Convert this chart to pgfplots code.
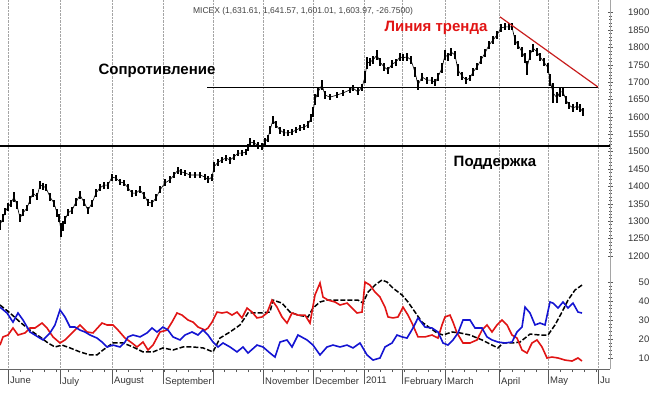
\documentclass[border=0pt]{standalone}
\usepackage{pgfplots}
\pgfplotsset{compat=1.18}
\usepackage{pgfplotstable}
\usepackage{fontspec}
\setmainfont{Liberation Sans}
\definecolor{dmiblue}{RGB}{20,20,210}
\definecolor{dmired}{RGB}{225,20,20}
\definecolor{trendred}{RGB}{200,30,30}
\definecolor{gridgray}{RGB}{165,165,165}

\pgfplotstableread{
x c e
0 1289 14
3 1309 12
5 1327 10
8 1341 12
11 1352 10
14 1370 14
17 1347 12
20 1309 12
23 1324 10
27 1338 10
30 1361 12
33 1381 12
37 1370 10
40 1404 12
43 1401 10
46 1396 10
50 1370 12
54 1352 10
57 1324 12
59 1309 12
61 1275 20
63 1286 14
65 1304 12
68 1324 10
72 1332 10
76 1355 12
80 1375 12
84 1355 10
88 1332 10
92 1352 10
96 1381 12
100 1396 10
104 1404 10
108 1404 10
112 1427 10
116 1424 8
120 1413 8
124 1410 8
128 1396 10
132 1381 10
136 1381 8
140 1390 10
144 1375 10
148 1355 10
152 1352 10
156 1367 10
160 1390 10
165 1410 10
170 1419 10
174 1433 10
178 1447 10
181 1442 8
185 1439 8
190 1433 8
195 1433 8
200 1433 8
205 1427 8
208 1419 10
212 1427 10
214 1456 14
218 1470 10
222 1476 8
226 1482 8
230 1476 10
234 1485 8
238 1496 8
242 1496 8
246 1499 8
248 1511 10
250 1528 12
254 1525 10
258 1519 10
262 1514 10
265 1528 10
268 1539 10
270 1562 12
273 1591 12
276 1577 10
280 1562 10
284 1554 10
288 1554 8
292 1557 8
296 1562 8
300 1568 8
304 1571 8
308 1577 10
311 1597 12
313 1614 14
315 1649 16
318 1672 14
322 1692 14
325 1663 12
330 1657 8
337 1663 8
343 1669 8
350 1678 8
353 1683 8
358 1672 10
362 1686 10
365 1715 16
367 1755 18
370 1758 12
373 1764 12
377 1778 14
380 1758 12
384 1744 12
388 1735 10
392 1752 12
396 1758 10
400 1773 12
403 1770 10
407 1773 12
411 1764 12
415 1729 14
418 1692 14
422 1715 12
427 1706 10
432 1706 10
435 1698 10
438 1715 12
442 1741 14
445 1778 14
448 1773 12
451 1787 12
455 1778 12
458 1735 16
462 1718 12
466 1706 10
470 1712 10
473 1729 12
477 1744 10
481 1764 12
485 1784 12
489 1807 12
493 1821 12
497 1836 12
501 1856 12
505 1859 10
509 1859 10
512 1859 10
515 1821 14
518 1807 12
522 1787 14
525 1770 14
527 1741 20
530 1778 14
533 1798 12
537 1787 12
540 1773 12
544 1758 12
548 1741 14
550 1706 18
553 1669 30
557 1655 16
560 1672 14
563 1672 12
566 1649 12
569 1634 10
573 1626 12
577 1631 12
580 1626 12
583 1614 12
}\pricedata

\pgfplotstableread{
x v
0 36.8
7 33.7
13 28.9
18 33.7
23 30.0
30 23.7
38 21.1
43 19.5
50 23.2
55 27.4
60 35.3
65 31.6
70 26.3
75 26.3
80 24.7
85 23.7
90 22.1
97 20.5
102 18.4
107 15.8
113 16.8
120 15.8
125 18.4
128 21.1
133 22.1
140 21.1
147 23.2
152 25.8
157 23.7
163 26.3
168 24.7
173 21.1
180 19.5
185 22.1
192 23.7
198 22.1
203 24.7
208 22.1
213 18.4
218 15.8
223 17.9
230 15.8
237 13.2
243 15.8
248 12.6
257 16.8
263 15.8
270 12.6
275 10.5
280 18.4
287 19.5
292 15.8
298 22.1
307 19.5
313 16.8
320 11.6
327 15.8
333 16.8
340 15.8
347 16.8
353 15.3
360 17.9
367 11.6
373 8.9
380 10.0
385 15.8
392 17.9
397 22.1
402 21.1
407 20.5
413 25.8
418 31.1
425 26.3
432 25.8
438 23.7
443 17.9
448 16.8
453 19.5
458 23.2
463 30.0
470 30.0
475 25.8
482 25.8
487 21.1
492 19.5
498 18.4
505 17.9
512 18.4
517 23.7
522 26.3
525 36.8
530 33.7
535 27.4
540 28.4
545 27.4
550 39.5
553 38.9
558 36.3
563 39.5
568 36.3
573 38.9
578 34.2
582 33.7
}\diplus

\pgfplotstableread{
x v
0 16.8
3 21.1
8 22.1
13 25.8
18 22.1
25 23.2
30 25.8
35 25.8
42 28.4
47 25.8
53 21.1
60 17.9
65 19.5
72 23.2
80 27.4
87 23.7
93 23.2
102 28.4
107 27.4
113 27.4
118 24.7
125 20.5
132 17.9
137 15.8
143 18.4
148 14.2
153 16.8
160 23.7
167 24.7
172 28.9
177 33.7
182 32.6
188 30.0
193 28.9
198 26.3
205 24.7
208 25.8
212 28.9
217 34.2
222 33.7
227 34.2
232 32.6
237 34.2
242 31.1
247 36.3
252 34.2
257 31.1
262 31.6
267 33.7
272 40.5
277 36.8
282 31.6
287 28.4
292 33.7
298 32.6
305 32.6
310 28.4
315 43.2
320 49.5
323 42.1
328 40.5
335 39.5
340 37.9
347 38.9
352 36.3
357 33.7
362 34.2
365 50.0
370 48.4
375 44.7
380 42.1
385 36.8
388 31.6
393 31.1
398 31.6
403 36.8
408 32.6
412 28.4
418 21.1
425 21.1
432 22.1
438 20.5
442 27.4
445 31.6
450 32.6
453 28.9
457 23.2
463 17.9
470 17.9
477 19.5
482 24.7
487 27.4
492 23.7
497 27.4
502 30.0
507 27.4
512 22.1
517 20.5
522 14.2
527 12.6
532 17.9
537 19.5
542 15.8
547 10.0
552 10.5
558 10.0
565 8.9
572 8.4
578 10.0
582 8.4
}\diminus

\pgfplotstableread{
x v
0 37.9
10 33.7
20 28.9
30 24.7
40 21.1
48 17.9
55 15.8
62 16.8
70 15.3
80 13.2
90 11.6
97 11.6
103 14.2
113 17.9
123 17.9
133 15.8
143 13.2
153 13.2
163 15.3
173 14.2
183 15.8
193 15.8
203 15.3
213 13.2
220 20.5
230 23.7
240 27.4
248 33.7
260 33.7
270 34.2
273 40.5
282 38.9
290 34.2
298 32.6
308 31.6
313 36.3
320 39.5
327 40.5
340 40.5
358 40.5
363 38.9
368 44.7
375 48.4
382 51.1
387 50.0
393 46.8
402 43.2
408 39.5
415 34.2
422 28.9
430 25.8
437 23.2
443 22.1
452 23.7
460 23.2
470 22.1
482 19.5
492 16.8
498 15.3
503 17.9
513 17.9
520 18.4
530 22.6
540 22.1
548 22.1
555 27.4
562 34.2
568 40.5
575 45.8
582 48.4
}\adx

\pgfplotsset{
  mygrid/.style={
    xmin=0, xmax=610,
    xtick={8,60,112,163,213,263,313,364,402,445,499,548,598},
    xmajorgrids,
    grid style={gridgray, densely dotted, line width=0.6pt},
  },
  rightticks/.style={
    axis y line*=right,
    axis line style={-},
    y axis line style={draw=gridgray},
    tick align=center,
    major tick length=5pt, minor tick length=3pt,
    every tick/.style={black!65, line width=0.5pt},
    /pgf/number format/assume math mode=true,
    /pgf/number format/1000 sep={},
    yticklabel style={font=\fontsize{9.5}{11}\selectfont, text=black!80, anchor=east, inner sep=0pt, xshift=37pt},
  },
}

\begin{document}
\begin{tikzpicture}[x=1pt,y=1pt]
\useasboundingbox (0,0) rectangle (650,-395);

% ---------- price panel ----------
\begin{axis}[
  at={(0pt,0pt)}, anchor=north west,
  scale only axis, width=610pt, height=265pt,
  mygrid, rightticks,
  ymin=1174, ymax=1936.5,
  axis x line*=bottom,
  x axis line style={draw=none},
  xticklabels={},
  major x tick style={draw=none},
  ytick={1200,1250,...,1900},
  minor y tick num=4,
  clip=false,
]
\addplot[black, line width=0.6pt, no marks,
  error bars/.cd, y dir=both, y explicit, error mark=none,
  error bar style={black, line width=1.4pt}]
  table[x=x, y=c, y error=e] {\pricedata};
% support
\addplot[black, line width=1.6pt, no marks] coordinates {(0,1516) (610,1516)};
% resistance
\addplot[black, line width=0.7pt, no marks] coordinates {(207,1686) (598,1686)};
% trend line
\addplot[trendred, line width=1.2pt, no marks] coordinates {(500,1888) (598,1686)};

\node[font=\fontsize{8.5}{10}\selectfont, text=black!75] at (axis cs:303,1905)
  {MICEX (1,631.61, 1,641.57, 1,601.01, 1,603.97, -26.7500)};
\node[font=\fontsize{15}{18}\selectfont\bfseries] at (axis cs:157,1732) {Сопротивление};
\node[font=\fontsize{15}{18}\selectfont\bfseries, text=dmired] at (axis cs:436,1856) {Линия тренда};
\node[font=\fontsize{15}{18}\selectfont\bfseries] at (axis cs:495,1467) {Поддержка};
\end{axis}

% ---------- DMI / ADX panel ----------
\begin{axis}[
  at={(0pt,-268pt)}, anchor=north west,
  scale only axis, width=610pt, height=101pt,
  mygrid,
  ymin=4.2, ymax=57.4,
  axis x line*=bottom, axis y line=none,
  axis line style={-},
  x axis line style={draw=black!60},
  ytick=\empty,
  tick align=outside,
  major tick length=15pt, minor tick length=3pt,
  every tick/.style={black!65, line width=0.6pt},
  minor xtick={20,32,...,600},
  xticklabels={June,July,August,September,,November,December,2011,February,March,April,May,Ju},
  xticklabel style={font=\fontsize{9.5}{11}\selectfont, text=black!80, anchor=north west, inner sep=0pt, xshift=2pt, yshift=7pt},
]
\addplot[black, line width=1.5pt, dash pattern=on 5pt off 2pt, no marks] table[x=x,y=v] {\adx};
\addplot[dmired, line width=1.6pt, no marks] table[x=x,y=v] {\diminus};
\addplot[dmiblue, line width=1.6pt, no marks] table[x=x,y=v] {\diplus};
\end{axis}

\begin{axis}[
  at={(0pt,-262pt)}, anchor=north west,
  scale only axis, width=610pt, height=107pt,
  xmin=0, xmax=610,
  ymin=4.2, ymax=60.5,
  rightticks,
  axis x line=none,
  ytick={10,20,30,40,50},
  minor y tick num=4,
]
\addplot[draw=none] coordinates {(0,10)};
\end{axis}
\end{tikzpicture}
\end{document}
